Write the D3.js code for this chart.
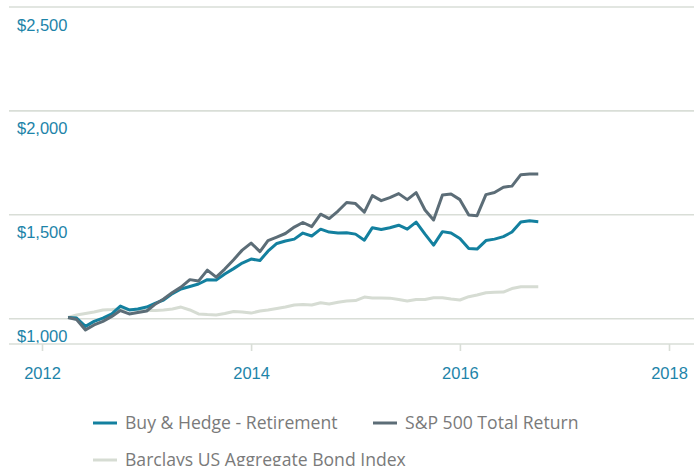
<!DOCTYPE html>
<html>
<head>
<meta charset="utf-8">
<script src="https://cdn.jsdelivr.net/npm/d3@7"></script>
<style>
  body { margin: 0; background: #fff; }
  svg { display: block; }
</style>
</head>
<body>
<svg id="chart"></svg>
<script>
// ---------------- data (monthly, Apr 2012 - Oct 2016) ----------------
var firstMonth = new Date(2012, 3, 1);

var buyHedge = [1006, 1003, 963, 987, 1003, 1023, 1061, 1042, 1047, 1056,
  1075, 1090, 1121, 1143, 1155, 1167, 1188, 1186, 1215, 1241,
  1268, 1287, 1280, 1325, 1362, 1374, 1383, 1412, 1398, 1431,
  1417, 1412, 1414, 1407, 1378, 1438, 1429, 1438, 1450, 1431,
  1465, 1407, 1354, 1419, 1412, 1386, 1338, 1335, 1376, 1383,
  1395, 1417, 1465, 1471, 1467];

var sp500 = [1006, 996, 946, 970, 987, 1011, 1039, 1023, 1030, 1037,
  1071, 1095, 1126, 1152, 1188, 1181, 1234, 1200, 1239, 1284,
  1330, 1364, 1323, 1376, 1393, 1410, 1441, 1463, 1443, 1503,
  1482, 1518, 1559, 1554, 1513, 1592, 1568, 1583, 1602, 1573,
  1607, 1523, 1475, 1595, 1600, 1573, 1499, 1496, 1597, 1607,
  1633, 1638, 1693, 1696, 1696];

var bonds = [1006, 1018, 1025, 1032, 1042, 1044, 1047, 1044, 1042, 1039,
  1039, 1042, 1047, 1056, 1042, 1023, 1020, 1018, 1025, 1035,
  1032, 1027, 1037, 1042, 1049, 1056, 1066, 1068, 1066, 1077,
  1071, 1079, 1085, 1087, 1104, 1100, 1100, 1099, 1092, 1085,
  1092, 1092, 1101, 1101, 1095, 1090, 1106, 1114, 1125, 1127,
  1128, 1145, 1154, 1154, 1154];

var seriesNames = ["Buy & Hedge - Retirement", "S&P 500 Total Return", "Barclays US Aggregate Bond Index"];
var seriesColors = ["#13809f", "#5c6d77", "#d6dcd3"];
var yTicks = [1000, 1500, 2000, 2500];
var xTickYears = [2012, 2014, 2016, 2018];

// ---------------- setup ----------------
var width = 694, height = 466;
var svg = d3.select("#chart").attr("width", width).attr("height", height);

var months = buyHedge.map(function(d, i) { return d3.timeMonth.offset(firstMonth, i); });

var xs = d3.scaleTime()
  .domain([new Date(2012, 0, 1), new Date(2018, 0, 1)])
  .range([42, 669]);
var ys = d3.scaleLinear().domain([1000, 2500]).range([318.7, 7]);

var gridColor = "#d9ded7";
var tickColor = "#1d84a9";

// horizontal grid + y labels
var yg = svg.append("g");
yg.selectAll("line").data(yTicks).enter().append("line")
  .attr("x1", 9).attr("x2", width)
  .attr("y1", function(d) { return ys(d); })
  .attr("y2", function(d) { return ys(d); })
  .attr("stroke", gridColor).attr("stroke-width", 1.6);
yg.selectAll("text").data(yTicks).enter().append("text")
  .attr("x", 17)
  .attr("y", function(d) { return ys(d) + 23.5; })
  .attr("fill", tickColor)
  .style("font-family", "'Liberation Sans', Arial, sans-serif")
  .style("font-size", "16.5px")
  .text(function(d) { return "$" + d3.format(",")(d); });

// x axis
var xAxis = svg.append("g").attr("transform", "translate(0,344)")
  .call(d3.axisBottom(xs)
    .tickValues(xTickYears.map(function(y) { return new Date(y, 0, 1); }))
    .tickFormat(d3.timeFormat("%Y"))
    .tickSize(7).tickPadding(16));
xAxis.select(".domain").remove();
xAxis.insert("line", ":first-child")
  .attr("x1", 9).attr("x2", width)
  .attr("stroke", gridColor).attr("stroke-width", 1.6);
xAxis.selectAll(".tick line").attr("stroke", gridColor).attr("stroke-width", 1.6);
xAxis.selectAll(".tick text")
  .attr("fill", tickColor)
  .style("font-family", "'Liberation Sans', Arial, sans-serif")
  .style("font-size", "16.5px");

// lines
var line = d3.line()
  .x(function(d, i) { return xs(months[i]); })
  .y(function(d) { return ys(d); });

var allSeries = [bonds, buyHedge, sp500];
var allColors = [seriesColors[2], seriesColors[0], seriesColors[1]];
svg.append("g").selectAll("path").data(allSeries).enter().append("path")
  .attr("fill", "none")
  .attr("stroke", function(d, i) { return allColors[i]; })
  .attr("stroke-width", 3)
  .attr("stroke-linejoin", "round")
  .attr("d", line);

// legend
var legendPos = [[93, 423], [373, 423], [93, 460]];
var lg = svg.append("g").selectAll("g").data(seriesNames).enter().append("g")
  .attr("transform", function(d, i) { return "translate(" + legendPos[i][0] + "," + legendPos[i][1] + ")"; });
lg.append("line")
  .attr("x1", 0).attr("x2", 24)
  .attr("stroke", function(d, i) { return seriesColors[i]; })
  .attr("stroke-width", 3);
lg.append("text")
  .attr("x", 32).attr("y", 6)
  .attr("fill", "#7a7a7a")
  .style("font-family", "'Open Sans', sans-serif")
  .style("font-size", "17.6px")
  .text(function(d) { return d; });
</script>
</body>
</html>
